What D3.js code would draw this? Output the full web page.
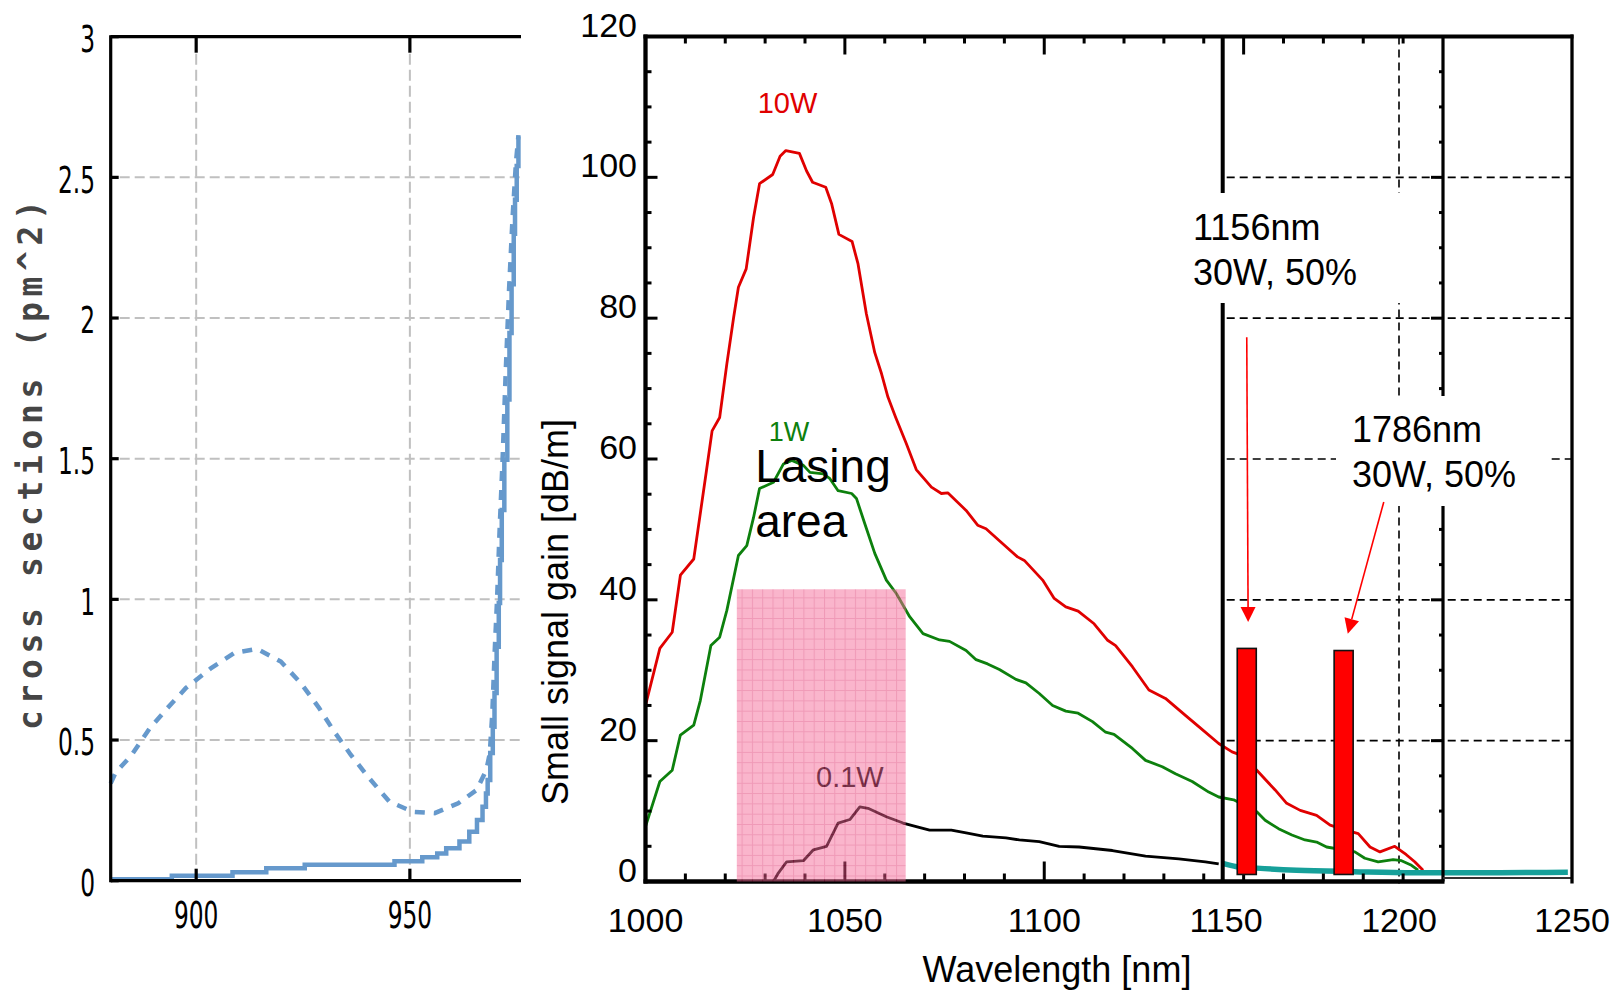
<!DOCTYPE html>
<html>
<head>
<meta charset="utf-8">
<script src="https://cdn.jsdelivr.net/npm/d3@7"></script>
<style>
  html, body { margin: 0; padding: 0; background: #fff; }
  svg { display: block; }
</style>
</head>
<body>
<svg id="chart" width="1621" height="990"></svg>
<script>
// ---------- Left panel: Yb cross sections ----------
const csTicksX = [900, 950];
const csTicksY = [0, 0.5, 1, 1.5, 2, 2.5, 3];
const csSolidWl  = [880, 894.3, 908.5, 916.4, 925.4, 946.4, 952.9, 956.4, 958.5, 961.6, 963.9, 965.7, 967, 967.8, 968.2, 968.8, 969.4, 969.8, 970.3, 970.8, 971.1, 971.5, 972.1, 972.8, 973.3, 973.8, 974.3, 974.6, 975, 975.4];
const csSolidVal = [0.005, 0.018, 0.03, 0.044, 0.057, 0.069, 0.083, 0.097, 0.115, 0.139, 0.174, 0.216, 0.263, 0.31, 0.358, 0.454, 0.547, 0.667, 0.832, 0.987, 1.14, 1.318, 1.496, 1.71, 1.947, 2.12, 2.30, 2.42, 2.54, 2.645];
const csDashWl  = [880, 881.1, 884.9, 889.2, 893.3, 897.6, 903.5, 909, 914.3, 919.8, 924.5, 928.8, 932.3, 936.2, 940.5, 945.2, 950.7, 955.8, 961.3, 965.6, 967.9, 968.7, 969.3, 969.8, 970.4, 971, 971.7, 972.4, 973.2, 974, 974.8, 975.4];
const csDashVal = [0.346, 0.383, 0.447, 0.543, 0.614, 0.685, 0.756, 0.81, 0.824, 0.779, 0.702, 0.613, 0.53, 0.447, 0.364, 0.281, 0.245, 0.24, 0.275, 0.322, 0.394, 0.453, 0.6, 0.8, 1.0, 1.25, 1.5, 1.8, 2.1, 2.35, 2.55, 2.65];

// ---------- Right panel: small signal gain ----------
const gainTicksX = [1000, 1050, 1100];
const gainTicksY = [0, 20, 40, 60, 80, 100, 120];
const insetTicksX = [1150, 1200, 1250];

const red10WWl  = [1000, 1003.6, 1006.7, 1008.75, 1012.1, 1015.3, 1016.7, 1018.6, 1020.4, 1022.1, 1023.3, 1025.25, 1027.1, 1028.6, 1031.9, 1033.75, 1035.2, 1038.6, 1040.4, 1041.9, 1045.2, 1046.7, 1048.5, 1051.8, 1053.3, 1055.4, 1057.5, 1059.2, 1060.8, 1062.75, 1065.4, 1067.9, 1071.7, 1074.2, 1075.8, 1080.4, 1083.3, 1085.4, 1088.75, 1093.3, 1095, 1099.6, 1102.5, 1105.4, 1108.5, 1112.5, 1115.8, 1117.9, 1122.1, 1126.25, 1130.4, 1135.4, 1138.75, 1143.75, 1147.1, 1150, 1153.3, 1157.9, 1160.8, 1164.2, 1168.3, 1171.7, 1175, 1178.75, 1181.7, 1184.2, 1187.9, 1190.8, 1192.9, 1195];
const red10WVal = [25.0, 33.1, 35.4, 43.5, 45.8, 58.4, 64.0, 65.9, 73.5, 80.1, 84.4, 87.0, 94.3, 99.1, 100.4, 103.0, 103.8, 103.4, 100.9, 99.3, 98.6, 96.2, 91.9, 90.9, 87.7, 80.6, 75.1, 72.1, 68.8, 65.9, 62.2, 58.5, 56.0, 55.1, 55.2, 52.7, 50.6, 50.1, 48.4, 46.1, 45.6, 42.8, 40.2, 39.0, 38.4, 36.6, 34.3, 33.5, 30.5, 27.2, 26.0, 23.6, 22.0, 19.6, 18.4, 17.8, 15.8, 13.0, 11.1, 10.1, 9.4, 8.0, 7.4, 6.8, 4.9, 4.2, 5.0, 3.8, 2.8, 1.6];

const green1WWl  = [1000, 1003.6, 1006.7, 1008.75, 1012.1, 1013.75, 1016.4, 1018.6, 1020.4, 1023.3, 1025.4, 1027.1, 1028.6, 1032.1, 1034.6, 1036.7, 1039.6, 1041.25, 1044.6, 1046.25, 1048.3, 1051.7, 1052.9, 1055, 1057.5, 1060.4, 1062.9, 1066.25, 1069.6, 1073.75, 1076.25, 1080.4, 1082.9, 1085.8, 1088.75, 1092.9, 1095.4, 1098.75, 1102.1, 1105.4, 1108.5, 1112.1, 1115.4, 1117.5, 1122.1, 1125.4, 1129.6, 1132.9, 1137.1, 1141.25, 1143.75, 1147.5, 1153.3, 1155.4, 1158.75, 1162.1, 1165.4, 1168.3, 1170.8, 1177.9, 1180.4, 1183.75, 1187.5, 1189.6, 1192.1, 1193.75];
const green1WVal = [7.8, 14.2, 15.8, 20.8, 22.2, 25.7, 33.5, 34.7, 38.5, 46.3, 47.7, 51.7, 55.8, 56.7, 59.3, 59.8, 59.1, 58.1, 57.9, 57.2, 55.5, 55.1, 54.4, 50.8, 46.6, 42.8, 40.9, 37.6, 35.2, 34.3, 34.1, 32.8, 31.5, 30.9, 30.1, 28.7, 28.2, 26.7, 25.0, 24.2, 23.9, 22.7, 21.2, 20.9, 18.9, 17.2, 16.3, 15.3, 14.2, 12.7, 12.0, 11.6, 9.9, 8.7, 7.5, 6.6, 5.9, 5.6, 4.9, 4.2, 3.3, 2.8, 3.1, 2.95, 2.3, 1.6];

const black01WWl  = [1032.1, 1033.3, 1035.4, 1039.6, 1042.1, 1045.4, 1048.3, 1051.25, 1053.75, 1055.8, 1060.4, 1064.6, 1067.9, 1071.25, 1076.7, 1080.4, 1084.6, 1090.4, 1093.75, 1098.75, 1103.75, 1108.75, 1117.1, 1125.4, 1133.75, 1140.4, 1143.75];
const black01WVal = [0, 1.2, 2.8, 2.95, 4.5, 5.0, 8.3, 8.8, 10.6, 10.4, 9.2, 8.3, 7.8, 7.3, 7.3, 6.9, 6.45, 6.2, 5.9, 5.65, 5.0, 4.9, 4.4, 3.6, 3.2, 2.8, 2.5];

// second measurement set (inset wavelength axis)
const tealWl  = [1148.8, 1153.1, 1158.9, 1170.4, 1186.8, 1204.1, 1229.2, 1248.8];
const tealVal = [2.6, 2.1, 1.9, 1.6, 1.4, 1.25, 1.25, 1.3];

const laserLines = ["1156nm", "1786nm"];
const laserWl    = [1156, 1184];
const laserGain  = [33.1, 32.8];
const laserBase  = 1.0;
const laserWidthNm = 5.5;

const lasingBandNm = [1022.9, 1065.25];
const lasingBandTop = 41.5;

// ---------- drawing ----------
const svg = d3.select("#chart");
const defs = svg.append("defs");

// Left panel scales
const xL = d3.scaleLinear().domain([880, 976]).range([110.7, 521]);
const yL = d3.scaleLinear().domain([0, 3]).range([880.7, 36.7]);

const left = svg.append("g").attr("class", "cross-sections");

// grid
left.append("g").selectAll("line.vgrid").data(csTicksX).join("line")
  .attr("x1", d => xL(d)).attr("x2", d => xL(d))
  .attr("y1", yL(3) + 17).attr("y2", yL(0))
  .attr("stroke", "#c0c0c0").attr("stroke-width", 2).attr("stroke-dasharray", "11,5");
left.append("g").selectAll("line.hgrid").data(csTicksY.filter(v => v > 0 && v < 3)).join("line")
  .attr("x1", xL(880) + 9).attr("x2", xL(976))
  .attr("y1", d => yL(d)).attr("y2", d => yL(d))
  .attr("stroke", "#c0c0c0").attr("stroke-width", 2).attr("stroke-dasharray", "10,5");

// curves
const csBlue = "#6699cc";
left.append("path")
  .datum(d3.zip(csDashWl, csDashVal))
  .attr("d", d3.line().x(d => xL(d[0])).y(d => yL(d[1])))
  .attr("fill", "none").attr("stroke", csBlue).attr("stroke-width", 4.5)
  .attr("stroke-dasharray", "10,9");
left.append("path")
  .datum(d3.zip(csSolidWl, csSolidVal))
  .attr("d", d3.line().curve(d3.curveStepAfter).x(d => xL(d[0])).y(d => yL(d[1])))
  .attr("fill", "none").attr("stroke", csBlue).attr("stroke-width", 4.5);

// axes
const axL = left.append("g").attr("stroke", "#000").attr("stroke-width", 3.2);
axL.append("line").attr("x1", xL(880)).attr("x2", xL(880)).attr("y1", yL(3) - 1.5).attr("y2", yL(0) + 1.5);
axL.append("line").attr("x1", xL(880)).attr("x2", xL(976)).attr("y1", yL(3)).attr("y2", yL(3));
axL.append("line").attr("x1", xL(880)).attr("x2", xL(976)).attr("y1", yL(0)).attr("y2", yL(0));
axL.selectAll("line.yt").data(csTicksY).join("line")
  .attr("x1", xL(880)).attr("x2", xL(880) + 8)
  .attr("y1", d => yL(d)).attr("y2", d => yL(d));
axL.selectAll("line.tt").data(csTicksX).join("line")
  .attr("x1", d => xL(d)).attr("x2", d => xL(d))
  .attr("y1", yL(3)).attr("y2", yL(3) + 16);
axL.selectAll("line.bt").data(csTicksX).join("line")
  .attr("x1", d => xL(d)).attr("x2", d => xL(d))
  .attr("y1", yL(0) - 12).attr("y2", yL(0));

// tick labels: tall narrow digits
const narrow = (sel) => sel.attr("font-family", "DejaVu Sans, sans-serif").attr("font-size", 37).attr("fill", "#000");
left.append("g").selectAll("g").data(csTicksY).join("g")
  .attr("transform", d => `translate(95,${yL(d) + 2}) scale(0.63,1)`)
  .append("text").call(narrow)
  .attr("text-anchor", "end").attr("dominant-baseline", "central")
  .text(d => d3.format("~g")(d));
left.append("g").selectAll("g").data(csTicksX).join("g")
  .attr("transform", d => `translate(${xL(d)},915) scale(0.63,1)`)
  .append("text").call(narrow)
  .attr("text-anchor", "middle").attr("dominant-baseline", "central")
  .text(d => d);

left.append("text")
  .attr("transform", "translate(30,465) rotate(-90)")
  .attr("text-anchor", "middle").attr("dominant-baseline", "central")
  .attr("font-family", "DejaVu Sans Mono, monospace").attr("font-weight", "bold")
  .attr("font-size", 33).attr("fill", "#454545")
  .attr("textLength", 530).attr("lengthAdjust", "spacing")
  .text("cross sections (pm^2)");

// Right panel scales
const xR = d3.scaleLinear().domain([1000, 1200]).range([645.5, 1443]);
const yR = d3.scaleLinear().domain([0, 120]).range([881.5, 36.5]);
const xIn = d3.scaleLinear().domain([1150, 1250]).range([1226, 1572]);
const frameRight = xIn(1250);
const insetLeft = 1222.7;

const right = svg.append("g").attr("class", "gain");

// inset dashed grid
const insetGrid = right.append("g").attr("stroke", "#000").attr("stroke-width", 1.6).attr("stroke-dasharray", "8,5");
insetGrid.selectAll("line.h").data([20, 40, 60, 80, 100]).join("line")
  .attr("x1", insetLeft + 4).attr("x2", frameRight)
  .attr("y1", d => yR(d)).attr("y2", d => yR(d));
insetGrid.append("line")
  .attr("x1", xIn(1200)).attr("x2", xIn(1200))
  .attr("y1", yR(120)).attr("y2", yR(0) + 2);

// gain curves
const lineR = d3.line().x(d => xR(d[0])).y(d => yR(d[1]));
right.append("path").datum(d3.zip(red10WWl, red10WVal)).attr("d", lineR)
  .attr("fill", "none").attr("stroke", "#e00000").attr("stroke-width", 2.8).attr("stroke-linejoin", "round");
right.append("path").datum(d3.zip(green1WWl, green1WVal)).attr("d", lineR)
  .attr("fill", "none").attr("stroke", "#0d800d").attr("stroke-width", 2.8).attr("stroke-linejoin", "round");
right.append("path").datum(d3.zip(black01WWl, black01WVal)).attr("d", lineR)
  .attr("fill", "none").attr("stroke", "#000").attr("stroke-width", 2.8).attr("stroke-linejoin", "round");
right.append("path").datum(d3.zip(tealWl, tealVal))
  .attr("d", d3.line().curve(d3.curveMonotoneX).x(d => xIn(d[0])).y(d => yR(d[1])))
  .attr("fill", "none").attr("stroke", "#16a09a").attr("stroke-width", 5.5).attr("stroke-linecap", "butt");

// series labels
right.append("text").attr("x", xR(1035.6)).attr("y", yR(109.1))
  .attr("text-anchor", "middle").attr("font-family", "Liberation Sans, Arial, sans-serif")
  .attr("font-size", 29).attr("fill", "#e00000").text("10W");
right.append("text").attr("x", xR(1036)).attr("y", yR(62.6))
  .attr("text-anchor", "middle").attr("font-family", "Liberation Sans, Arial, sans-serif")
  .attr("font-size", 27).attr("fill", "#0d800d").text("1W");
right.append("text").attr("x", xR(1051.25)).attr("y", yR(13.4))
  .attr("text-anchor", "middle").attr("font-family", "Liberation Sans, Arial, sans-serif")
  .attr("font-size", 29).attr("fill", "#000").text("0.1W");
const lasing = right.append("text").attr("font-family", "Liberation Sans, Arial, sans-serif")
  .attr("font-size", 46).attr("fill", "#000");
lasing.append("tspan").attr("x", xR(1027.5)).attr("y", yR(56.7)).text("Lasing");
lasing.append("tspan").attr("x", xR(1027.5)).attr("y", yR(48.9)).text("area");

// axes of the gain plot
const axR = right.append("g").attr("stroke", "#000");
axR.append("line").attr("x1", xR(1000)).attr("x2", xR(1000)).attr("y1", yR(120) - 2).attr("y2", yR(0) + 2).attr("stroke-width", 4.3);
axR.append("line").attr("x1", xR(1000) - 2).attr("x2", frameRight + 1.5).attr("y1", yR(120)).attr("y2", yR(120)).attr("stroke-width", 4);
axR.append("line").attr("x1", xR(1000) - 2).attr("x2", xR(1200) + 1.5).attr("y1", yR(0)).attr("y2", yR(0)).attr("stroke-width", 4.5);
axR.append("line").attr("x1", xR(1200)).attr("x2", xR(1200)).attr("y1", yR(120)).attr("y2", yR(0)).attr("stroke-width", 3.2);
axR.append("line").attr("x1", xR(1200)).attr("x2", frameRight).attr("y1", yR(0) - 3.5).attr("y2", yR(0) - 3.5).attr("stroke-width", 2).attr("stroke", "#333");
axR.append("line").attr("x1", frameRight).attr("x2", frameRight).attr("y1", yR(120) - 2).attr("y2", yR(0) + 2).attr("stroke-width", 3.3);
axR.append("line").attr("x1", insetLeft).attr("x2", insetLeft).attr("y1", yR(120)).attr("y2", yR(0)).attr("stroke-width", 4);

const yMinor = d3.range(5, 120, 5);
axR.selectAll("line.ylt").data(yMinor).join("line")
  .attr("x1", xR(1000)).attr("x2", d => xR(1000) + (d % 20 === 0 ? 12 : 6))
  .attr("y1", d => yR(d)).attr("y2", d => yR(d)).attr("stroke-width", 3);
axR.selectAll("line.yrt").data(yMinor).join("line")
  .attr("x1", xR(1200)).attr("x2", d => xR(1200) - (d % 20 === 0 ? 12 : 4))
  .attr("y1", d => yR(d)).attr("y2", d => yR(d)).attr("stroke-width", 3);
const xMinor = d3.range(1010, 1200, 10);
axR.selectAll("line.xtt").data(xMinor).join("line")
  .attr("x1", d => xR(d)).attr("x2", d => xR(d))
  .attr("y1", yR(120)).attr("y2", d => yR(120) + (d % 50 === 0 ? 18 : 7)).attr("stroke-width", 3);
axR.selectAll("line.xbt").data(xMinor).join("line")
  .attr("x1", d => xR(d)).attr("x2", d => xR(d))
  .attr("y1", yR(0)).attr("y2", d => yR(0) - (d % 50 === 0 ? 20 : 8)).attr("stroke-width", 3);

// lasing band, translucent pink grid
const pat = defs.append("pattern").attr("id", "pinkGrid")
  .attr("patternUnits", "userSpaceOnUse").attr("width", 10.3).attr("height", 10.3);
pat.append("rect").attr("width", 10.3).attr("height", 10.3).attr("fill", "#f46b98");
pat.append("path").attr("d", "M0 0.5H10.3M0.5 0V10.3").attr("stroke", "#e0346f").attr("stroke-width", 1);
right.append("rect")
  .attr("x", xR(lasingBandNm[0])).attr("width", xR(lasingBandNm[1]) - xR(lasingBandNm[0]))
  .attr("y", yR(lasingBandTop)).attr("height", yR(0) - yR(lasingBandTop))
  .attr("fill", "url(#pinkGrid)").attr("opacity", 0.5);

// laser bars
const bw = xIn(1150 + laserWidthNm) - xIn(1150);
right.append("g").selectAll("rect").data(d3.zip(laserWl, laserGain)).join("rect")
  .attr("x", d => xIn(d[0]) - bw / 2).attr("width", bw)
  .attr("y", d => yR(d[1])).attr("height", d => yR(laserBase) - yR(d[1]))
  .attr("fill", "#ff0000").attr("stroke", "#111").attr("stroke-width", 1.6);

// white boxes behind the annotations
right.append("rect").attr("x", 1188).attr("y", 193).attr("width", 230).attr("height", 110).attr("fill", "#fff");
right.append("rect").attr("x", 1336).attr("y", 396).attr("width", 212).attr("height", 110).attr("fill", "#fff");

const annFont = (sel) => sel.attr("font-family", "Liberation Sans, Arial, sans-serif").attr("font-size", 36).attr("fill", "#000");
const a1 = right.append("text").call(annFont);
a1.append("tspan").attr("x", 1193).attr("y", 240).text(laserLines[0]);
a1.append("tspan").attr("x", 1193).attr("y", 285).text("30W, 50%");
const a2 = right.append("text").call(annFont);
a2.append("tspan").attr("x", 1352).attr("y", 442).text(laserLines[1]);
a2.append("tspan").attr("x", 1352).attr("y", 487).text("30W, 50%");

// arrows
function arrow(x1, y1, x2, y2) {
  const g = right.append("g");
  const ang = Math.atan2(y2 - y1, x2 - x1);
  const L = 15, Wd = 7.5;
  const bx = x2 - L * Math.cos(ang), by = y2 - L * Math.sin(ang);
  g.append("line").attr("x1", x1).attr("y1", y1).attr("x2", bx).attr("y2", by)
    .attr("stroke", "#ff0000").attr("stroke-width", 1.6);
  const px = -Math.sin(ang) * Wd, py = Math.cos(ang) * Wd;
  g.append("path").attr("d", `M${x2},${y2}L${bx + px},${by + py}L${bx - px},${by - py}Z`).attr("fill", "#ff0000");
}
arrow(xIn(1156), yR(77.3), xIn(1156.4), yR(36.85));
arrow(xIn(1195.6), yR(53.9), xIn(1185.2), yR(35.2));

// tick labels
const tickFont = (sel) => sel.attr("font-family", "Liberation Sans, Arial, sans-serif").attr("font-size", 34).attr("fill", "#000");
right.append("g").selectAll("text").data(gainTicksY).join("text").call(tickFont)
  .attr("x", 637).attr("y", d => yR(d) - 12)
  .attr("text-anchor", "end").attr("dominant-baseline", "central").text(d => d);
right.append("g").selectAll("text").data(gainTicksX).join("text").call(tickFont)
  .attr("x", d => xR(d)).attr("y", 920)
  .attr("text-anchor", "middle").attr("dominant-baseline", "central").text(d => d);
right.append("g").selectAll("text").data(insetTicksX).join("text").call(tickFont)
  .attr("x", d => xIn(d)).attr("y", 920)
  .attr("text-anchor", "middle").attr("dominant-baseline", "central").text(d => d);

// axis titles
right.append("text").attr("x", 1057).attr("y", 982)
  .attr("text-anchor", "middle").attr("font-family", "Liberation Sans, Arial, sans-serif")
  .attr("font-size", 36).attr("fill", "#000").text("Wavelength [nm]");
right.append("text").attr("transform", "translate(568,612) rotate(-90)")
  .attr("text-anchor", "middle").attr("font-family", "Liberation Sans, Arial, sans-serif")
  .attr("font-size", 36).attr("fill", "#000").text("Small signal gain [dB/m]");
</script>
</body>
</html>
